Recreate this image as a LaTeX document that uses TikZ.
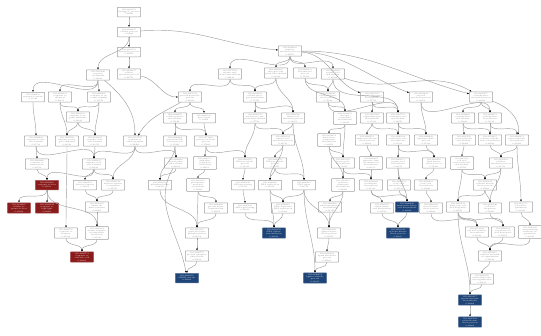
\documentclass[tikz,border=0pt]{standalone}
\usetikzlibrary{arrows.meta}
\definecolor{sigred}{HTML}{8A1B1B}
\definecolor{sigblue}{HTML}{1F4477}
\tikzset{
  term/.style={draw=gray!75, fill=white, rounded corners=.6pt, line width=.5pt,
    text width=21pt, align=center, inner sep=1.1pt, minimum height=9.5pt,
    font=\fontsize{1.9}{2.25}\selectfont, text=gray},
  hot/.style={term, fill=sigred, draw=sigred!75, text=white},
  cold/.style={term, fill=sigblue, draw=sigblue!75, text=white},
  link/.style={draw=gray!75, line width=.45pt,
    -{Latex[length=1.9pt,width=1.7pt,color=black]}, out=-90, in=90}
}
\begin{document}
\begin{tikzpicture}[x=1pt,y=-1pt]
  \useasboundingbox (0,0) rectangle (541,335);

  \node[term] (n1) at (129,12) {GO:0008150\\biological\_process\\1.00000};
  \node[term] (n2) at (129,32) {GO:0009987\\cellular process\\1.00000};
  \node[term] (n3) at (129,52) {GO:0008152\\metabolic process\\0.99410};
  \node[term] (n4) at (129,74) {GO:0044237\\cellular metabolic process\\0.98770};
  \node[term] (n5) at (98,75) {GO:0050896\\response to stimulus\\0.34120};
  \node[term] (n6) at (33,97) {GO:0006950\\response to stress\\0.21340};
  \node[term] (n7) at (60,97) {GO:0042221\\response to chemical\\0.40150};
  \node[term] (n8) at (99,97) {GO:0009605\\response to external stimulus\\0.12870};
  \node[term] (n9) at (78,117) {GO:0010033\\response to organic substance\\0.08810};
  \node[term] (n10) at (36,141) {GO:0009628\\response to abiotic stimulus\\0.05530};
  \node[term] (n11) at (67,141) {GO:1901700\\response to oxygen compound\\0.02140};
  \node[term] (n12) at (95,141) {GO:0043207\\response to biotic stimulus\\0.03370};
  \node[term] (n13) at (135,141) {GO:0051707\\response to other organism\\0.04460};
  \node[term] (n14) at (37,164) {GO:0009266\\response to temperature\\0.00710};
  \node[term] (n15) at (94,164) {GO:0009607\\response to biotic stimulus\\0.01190};
  \node[hot] (r1) at (47,185) {GO:0009408\\response to heat\\0.00013};
  \node[term] (n16) at (85,185) {GO:0006952\\defense response\\0.02250};
  \node[term] (n17) at (113,185) {GO:0098542\\defense response to organism\\0.01870};
  \node[hot] (r2) at (19,208) {GO:0034605\\cellular response to heat\\0.00042};
  \node[hot] (r3) at (47,208) {GO:0009644\\response to high light\\0.00061};
  \node[term] (n18) at (97,207) {GO:0045087\\innate immune response\\0.00980};
  \node[term] (n19) at (66,233) {GO:0009725\\response to hormone\\0.00520};
  \node[term] (n20) at (97,233) {GO:0009814\\defense response, incompatible interaction\\0.00330};
  \node[hot] (r4) at (82,257) {GO:0009751\\response to salicylic acid\\0.00008};

  \node[term] (m1) at (290,51) {GO:0044238\\primary metabolic process\\0.97650};
  \node[term] (m2) at (230,74) {GO:0071704\\organic substance metabolism\\0.96120};
  \node[term] (m3) at (276,73) {GO:0006807\\nitrogen compound metabolism\\0.88340};
  \node[term] (m4) at (305,73) {GO:0009058\\biosynthetic process\\0.71230};
  \node[term] (m5) at (333,74) {GO:0006082\\organic acid metabolism\\0.41160};
  \node[term] (m6) at (190,97) {GO:0019538\\protein metabolic process\\0.61280};
  \node[term] (m7) at (255,97) {GO:0034641\\cellular nitrogen metabolism\\0.55470};
  \node[term] (m8) at (328,97) {GO:0044249\\cellular biosynthetic process\\0.50230};
  \node[term] (m9) at (372,97) {GO:1901576\\organic substance biosynthesis\\0.47710};
  \node[term] (m10) at (421,97) {GO:0043436\\oxoacid metabolic process\\0.32050};
  \node[term] (m11) at (481,97) {GO:0005975\\carbohydrate metabolic process\\0.28890};

  \node[term] (a1) at (175,118) {GO:0044267\\cellular protein metabolism\\0.52140};
  \node[term] (a2) at (204,118) {GO:0006508\\proteolysis\\0.33860};
  \node[term] (a3) at (255,118) {GO:0006139\\nucleobase compound metabolism\\0.37780};
  \node[term] (a4) at (293,118) {GO:0006520\\amino acid metabolic process\\0.18850};
  \node[term] (a5) at (345,118) {GO:0044271\\nitrogen compound biosynthesis\\0.29410};
  \node[term] (a6) at (372,118) {GO:1901566\\organonitrogen biosynthesis\\0.15320};
  \node[term] (a7) at (398,118) {GO:0019752\\carboxylic acid metabolism\\0.14070};
  \node[term] (a8) at (463,118) {GO:0044262\\carbohydrate metabolism\\0.19930};
  \node[term] (a9) at (490,118) {GO:0016051\\carbohydrate biosynthesis\\0.11120};

  \node[term] (b1) at (175,141) {GO:0006464\\protein modification process\\0.31440};
  \node[term] (b2) at (206,141) {GO:0051603\\protein catabolic process\\0.17600};
  \node[term] (b3) at (283,140) {GO:0090304\\nucleic acid metabolic process\\0.26510};
  \node[term] (b4) at (329,140) {GO:0034654\\nucleobase compound biosynthesis\\0.20070};
  \node[term] (b5) at (367,140) {GO:0008652\\amino acid biosynthetic process\\0.06280};
  \node[term] (b6) at (398,140) {GO:0046394\\carboxylic acid biosynthesis\\0.05190};
  \node[term] (b7) at (426,140) {GO:0006629\\lipid metabolic process\\0.07340};
  \node[term] (b8) at (464,140) {GO:0005976\\polysaccharide metabolism\\0.08460};
  \node[term] (b9) at (490,140) {GO:0034637\\cellular carbohydrate biosynthesis\\0.04920};
  \node[term] (b10) at (517,140) {GO:0000271\\polysaccharide biosynthesis\\0.03980};

  \node[term] (c1) at (176,163) {GO:0006468\\protein phosphorylation\\0.09120};
  \node[term] (c2) at (205,163) {GO:0006511\\ubiquitin-dependent catabolism\\0.06650};
  \node[term] (c3) at (245,163) {GO:0016070\\RNA metabolic process\\0.12380};
  \node[term] (c4) at (275,163) {GO:0006259\\DNA metabolic process\\0.08070};
  \node[term] (c5) at (343,163) {GO:0018130\\heterocycle biosynthesis\\0.10410};
  \node[term] (c6) at (371,163) {GO:0009067\\aspartate family amino acid biosynthesis\\0.03150};
  \node[term] (c7) at (398,163) {GO:0016053\\organic acid biosynthesis\\0.02870};
  \node[term] (c8) at (434,163) {GO:0008610\\lipid biosynthetic process\\0.02430};
  \node[term] (c9) at (462,163) {GO:0010383\\cell wall polysaccharide metabolism\\0.01760};
  \node[term] (c10) at (501,163) {GO:0030243\\cellulose metabolic process\\0.01510};

  \node[term] (d1) at (160,185) {GO:0016310\\phosphorylation\\0.04380};
  \node[term] (d2) at (198,185) {GO:0043161\\proteasome-mediated catabolism\\0.02960};
  \node[term] (d3) at (243,185) {GO:0006396\\RNA processing\\0.05870};
  \node[term] (d4) at (270,185) {GO:0006260\\DNA replication\\0.03620};
  \node[term] (d5) at (304,185) {GO:0006281\\DNA repair\\0.02710};
  \node[term] (d6) at (343,185) {GO:0019438\\aromatic compound biosynthesis\\0.04090};
  \node[term] (d7) at (371,185) {GO:0009086\\methionine biosynthesis\\0.01330};
  \node[term] (d8) at (399,185) {GO:0006631\\fatty acid metabolic process\\0.01120};
  \node[term] (d9) at (426,185) {GO:0006633\\fatty acid biosynthesis\\0.00940};
  \node[term] (d10) at (485,185) {GO:0030244\\cellulose biosynthetic process\\0.00860};

  \node[term] (e1) at (216,208) {GO:0000209\\protein polyubiquitination\\0.01650};
  \node[term] (e2) at (245,208) {GO:0006364\\rRNA processing\\0.02190};
  \node[term] (e3) at (283,208) {GO:0006261\\DNA-dependent DNA replication\\0.01420};
  \node[term] (e4) at (330,207) {GO:0009699\\phenylpropanoid biosynthesis\\0.01370};
  \node[term] (e5) at (382,208) {GO:0000097\\sulfur amino acid biosynthesis\\0.00720};
  \node[cold] (e6) at (407,207) {GO:0006636\\unsaturated fatty acid biosynthesis\\0.00029};
  \node[term] (e7) at (431,208) {GO:0016126\\sterol biosynthetic process\\0.00640};
  \node[term] (e8) at (458,207) {GO:0009832\\plant-type cell wall biogenesis\\0.00590};
  \node[term] (e9) at (490,208) {GO:0042546\\cell wall biogenesis\\0.00480};
  \node[term] (e10) at (521,207) {GO:0071555\\cell wall organization\\0.00410};

  \node[term] (f1) at (197,233) {GO:0018105\\peptidyl-serine phosphorylation\\0.00550};
  \node[cold] (f2) at (274,233) {GO:0006270\\DNA replication initiation\\0.00018};
  \node[term] (f3) at (329,233) {GO:0009809\\lignin biosynthetic process\\0.00270};
  \node[cold] (f4) at (398,233) {GO:0019344\\cysteine biosynthetic process\\0.00035};
  \node[term] (f5) at (477,232) {GO:0052324\\cell wall cellulose biosynthesis\\0.00310};
  \node[term] (f6) at (503,232) {GO:0009834\\secondary cell wall biogenesis\\0.00250};
  \node[term] (f7) at (530,232) {GO:0045229\\encapsulating structure organization\\0.00210};

  \node[term] (g1) at (197,256) {GO:0046777\\protein autophosphorylation\\0.00190};
  \node[term] (g2) at (327,257) {GO:0009808\\lignin metabolic process\\0.00160};
  \node[term] (g3) at (490,256) {GO:0010215\\cellulose microfibril organization\\0.00140};
  \node[cold] (h1) at (187,278) {GO:0000165\\MAPK cascade\\0.00022};
  \node[cold] (h2) at (315,278) {GO:0046274\\lignin catabolic process\\0.00011};
  \node[term] (h3) at (482,279) {GO:0030198\\extracellular matrix organization\\0.00120};
  \node[cold] (i1) at (470,300) {GO:0010417\\glucuronoxylan biosynthesis\\0.00009};
  \node[cold] (j1) at (470,322) {GO:0045492\\xylan biosynthetic process\\0.00004};

  \path (n1) edge[link] (n2);
  \path (n2) edge[link] (n3) edge[link] (n5) edge[link,out=5,in=175] (m1);
  \path (n3) edge[link] (n4);
  \path (n4) edge[link,out=-10,in=180] (m6);
  \path (n5) edge[link] (n6) edge[link] (n7) edge[link] (n8)
    edge[link,out=-40,in=90] (n13);
  \path (n6) edge[link] (n10);
  \path (n7) edge[link] (n9) edge[link] (n11);
  \path (n8) edge[link] (n9) edge[link] (n12);
  \path (n9) edge[link] (n11) edge[link] (n12);
  \path (n10) edge[link] (n14) edge[link] (n15);
  \path (n11) edge[link] (n19);
  \path (n12) edge[link] (n15);
  \path (n13) edge[link] (n15) edge[link] (n17) edge[link] (c1);
  \path (n14) edge[link] (r1);
  \path (n15) edge[link] (r1) edge[link] (n16) edge[link] (n17);
  \path (n16) edge[link] (n18);
  \path (n17) edge[link] (n18);
  \path (r1) edge[link] (r2) edge[link] (r3) edge[link] (n20);
  \path (n18) edge[link] (n20);
  \path (n19) edge[link] (r4);
  \path (n20) edge[link] (r4);

  \path (m1) edge[link] (m2) edge[link] (m3) edge[link] (m4) edge[link] (m5)
    edge[link,out=-5,in=160] (m9) edge[link,out=-3,in=160] (m10)
    edge[link,out=0,in=165] (m11);
  \path (m2) edge[link] (m6) edge[link] (m7);
  \path (m3) edge[link] (m7) edge[link] (a4);
  \path (m4) edge[link] (m8) edge[link] (a5);
  \path (m5) edge[link] (m8) edge[link] (a7) edge[link,out=-20,in=150] (m11);
  \path (m6) edge[link] (a1) edge[link] (a2) edge[link,out=-150,in=60] (n13);
  \path (m7) edge[link] (a3) edge[link] (a4);
  \path (m8) edge[link] (a5) edge[link] (a7);
  \path (m9) edge[link] (a6) edge[link] (a7);
  \path (m10) edge[link] (a9) edge[link] (b7);
  \path (m11) edge[link] (a8) edge[link] (a9) edge[link,out=-20,in=80] (b10);
  \path (a1) edge[link] (b1) edge[link] (b2);
  \path (a2) edge[link] (b2);
  \path (a3) edge[link] (b3) edge[link] (c3);
  \path (a4) edge[link] (b3) edge[link] (d5);
  \path (a5) edge[link] (b4) edge[link] (c5);
  \path (a6) edge[link] (b5) edge[link] (b6);
  \path (a7) edge[link] (b6) edge[link] (b7);
  \path (a8) edge[link] (b8) edge[link] (b9);
  \path (a9) edge[link] (b9) edge[link] (b10);
  \path (b1) edge[link] (c1) edge[link] (d1);
  \path (b2) edge[link] (c2) edge[link] (c3);
  \path (b3) edge[link] (c4) edge[link] (d4);
  \path (b4) edge[link] (c5) edge[link] (d6);
  \path (b5) edge[link] (c6);
  \path (b6) edge[link] (c7) edge[link] (c8);
  \path (b7) edge[link] (c8);
  \path (b8) edge[link] (c9);
  \path (b9) edge[link] (c10);
  \path (b10) edge[link] (c10) edge[link] (e10);
  \path (c1) edge[link] (d1) edge[link,out=-120,in=100] (h1);
  \path (c2) edge[link] (d2);
  \path (c3) edge[link] (d3);
  \path (c4) edge[link] (d4) edge[link] (d5);
  \path (c5) edge[link] (d6) edge[link] (d7);
  \path (c6) edge[link] (d7);
  \path (c7) edge[link] (d8) edge[link] (e6);
  \path (c8) edge[link] (d9);
  \path (c9) edge[link] (d10) edge[link] (e8);
  \path (c10) edge[link] (d10) edge[link] (e9);
  \path (d1) edge[link] (f1);
  \path (d2) edge[link] (e1) edge[link] (f1);
  \path (d3) edge[link] (e2);
  \path (d4) edge[link] (e3) edge[link] (f2);
  \path (d5) edge[link] (e3) edge[link] (f3) edge[link] (h2);
  \path (d6) edge[link] (e4) edge[link] (f3);
  \path (d7) edge[link] (e5) edge[link] (e6);
  \path (d8) edge[link] (e6);
  \path (d9) edge[link] (e7);
  \path (d10) edge[link] (e8) edge[link] (e9);
  \path (e1) edge[link] (f1);
  \path (e2) edge[link] (f2);
  \path (e3) edge[link] (f2);
  \path (e4) edge[link] (f3);
  \path (e5) edge[link] (f4);
  \path (e6) edge[link] (f4);
  \path (e7) edge[link] (f5);
  \path (e8) edge[link] (f5) edge[link] (f6) edge[link] (i1);
  \path (e9) edge[link] (f6);
  \path (e10) edge[link] (f7);
  \path (f1) edge[link] (g1);
  \path (f3) edge[link] (g2);
  \path (f5) edge[link] (g3);
  \path (f6) edge[link] (g3);
  \path (f7) edge[link] (g3);
  \path (g1) edge[link] (h1);
  \path (g2) edge[link] (h2);
  \path (g3) edge[link] (h3);
  \path (h3) edge[link] (i1);
  \path (i1) edge[link] (j1);
\end{tikzpicture}
\end{document}
